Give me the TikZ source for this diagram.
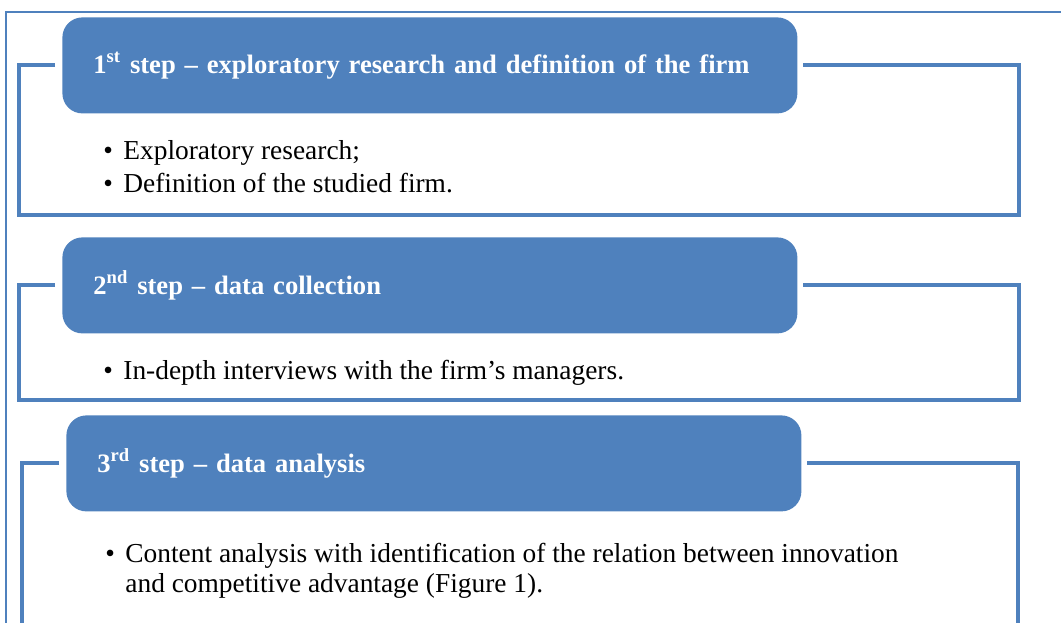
\documentclass[tikz,border=0pt]{standalone}
\usepackage{fontspec}
\setmainfont{Liberation Serif}
\usetikzlibrary{positioning}
\definecolor{stepblue}{HTML}{4F81BD}
\tikzset{
  stephead/.style={rectangle, rounded corners=10pt, fill=stepblue, text=white,
    font=\bfseries\fontsize{13.3}{16}\selectfont, minimum width=367.5pt,
    minimum height=48pt, text width=336.5pt, inner xsep=15.5pt, align=left,
    anchor=north west},
  stepbody/.style={inner sep=0pt, font=\fontsize{13.7}{16.5}\selectfont},
  stepframe/.style={draw=stepblue, line width=2pt},
  pageframe/.style={draw=stepblue, line width=0.75pt}
}
\begin{document}
\begin{tikzpicture}[x=0.5pt,y=-0.5pt]
\clip (0,0) rectangle (1061,622);
\draw[pageframe] (1080,12) -- (6,12) -- (6,640);

\node[stephead] (h1) at (62,17) {\mbox{1\textsuperscript{st} step -- exploratory research and definition of the firm}};
\node[stepbody, below right=11pt and 20.5pt of h1.south west] (b1)
  {\begin{tabular}{@{}p{10pt}@{}l@{}}
   \textbullet & Exploratory research;\\
   \textbullet & Definition of the studied firm.
   \end{tabular}};
\coordinate (f1sw) at (19,215);
\coordinate (f1se) at (1019,215);
\draw[stepframe] ([xshift=-3.5pt]h1.west) -| (f1sw) -- (f1se) |- ([xshift=2.5pt]h1.east);

\node[stephead] (h2) at (62,237) {2\textsuperscript{nd} step -- data collection};
\node[stepbody, below right=11pt and 20.5pt of h2.south west] (b2)
  {\begin{tabular}{@{}p{10pt}@{}l@{}}
   \textbullet & In-depth interviews with the firm’s managers.
   \end{tabular}};
\coordinate (f2sw) at (19,400);
\coordinate (f2se) at (1019,400);
\draw[stepframe] ([xshift=-3.5pt]h2.west) -| (f2sw) -- (f2se) |- ([xshift=2.5pt]h2.east);

\node[stephead] (h3) at (66,415) {3\textsuperscript{rd} step -- data analysis};
\node[stepbody, below right=13.5pt and 19.5pt of h3.south west] (b3)
  {\begin{tabular}{@{}p{10pt}@{}l@{}}
   \textbullet & Content analysis with identification of the relation between innovation\\[-1.5pt]
   & and competitive advantage (Figure 1).
   \end{tabular}};
\coordinate (f3sw) at (22,660);
\coordinate (f3se) at (1018,660);
\draw[stepframe] ([xshift=-3.5pt]h3.west) -| (f3sw) -- (f3se) |- ([xshift=2.5pt]h3.east);
\end{tikzpicture}
\end{document}
